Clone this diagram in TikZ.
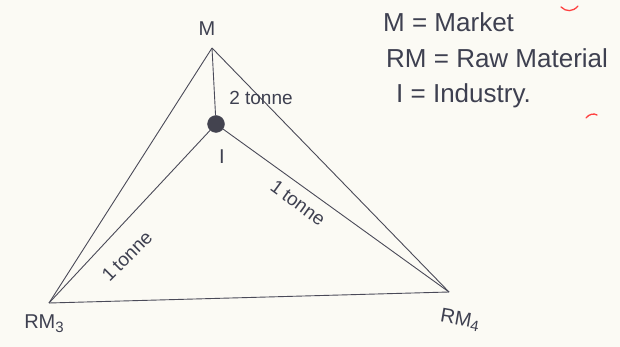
\documentclass[tikz,border=0pt]{standalone}
\usepackage{fontspec}
\setmainfont{Liberation Sans}
\newcommand{\subnum}[1]{\raisebox{-0.35ex}{\fontsize{15}{15}\selectfont #1}}
\begin{document}
\begin{tikzpicture}[x=1pt,y=-1pt,
  edge/.style={draw=linegray,line width=0.9pt},
  lbl/.style={text=inkgray,inner sep=0pt,font=\fontsize{20}{22}\selectfont},
  wt/.style={text=inkgray,inner sep=0pt,font=\fontsize{19}{21}\selectfont},
  legend/.style={text=inkgray,inner sep=0pt,anchor=west,font=\fontsize{26}{28}\selectfont},
  redmark/.style={draw=red!75!white,line width=1.3pt,line cap=round}]
\definecolor{linegray}{HTML}{4A4A58}
\definecolor{inkgray}{HTML}{3E4050}
\definecolor{paper}{HTML}{FBFAF4}
\useasboundingbox[fill=paper] (0,0) rectangle (620,347);
% vertices
\coordinate (M) at (212,48);
\coordinate (RM3) at (49,303);
\coordinate (RM4) at (449,292);
\node[circle,fill=linegray!90!black,draw=linegray,minimum size=17pt,inner sep=0pt] (I) at (216,124) {};
% edges
\draw[edge] (M) -- (RM3);
\draw[edge] (M) -- (RM4);
\draw[edge] (RM3) -- (RM4);
\draw[edge] (M) -- (I);
\draw[edge] (I) -- (RM3);
\draw[edge] (I) -- (RM4);
% labels
\node[lbl] (lM) at (207,29) {M};
\node[lbl] (lI) at (222,157) {I};
\node[lbl] (lRM3) at (44,324) {RM\subnum{3}};
\node[lbl,rotate=-10] (lRM4) at (460,320) {RM\subnum{4}};
\node[wt] (w1) at (261,98) {2 tonne};
\node[wt,rotate=-36] (w2) at (298,203) {1\hspace{4pt}tonne};
\node[wt,rotate=45] (w3) at (127,256) {1\hspace{4pt}tonne};
% legend
\node[legend] (g1) at (383,22) {M = Market};
\node[legend] (g2) at (386,58) {RM = Raw Material};
\node[legend] (g3) at (396,96) {I = Industry.};
% red marks
\draw[redmark] (561,7) .. controls (566,12) and (573,12) .. (578,6);
\draw[redmark] (586,118) .. controls (589,114) and (594,113) .. (597,115);
\end{tikzpicture}
\end{document}
